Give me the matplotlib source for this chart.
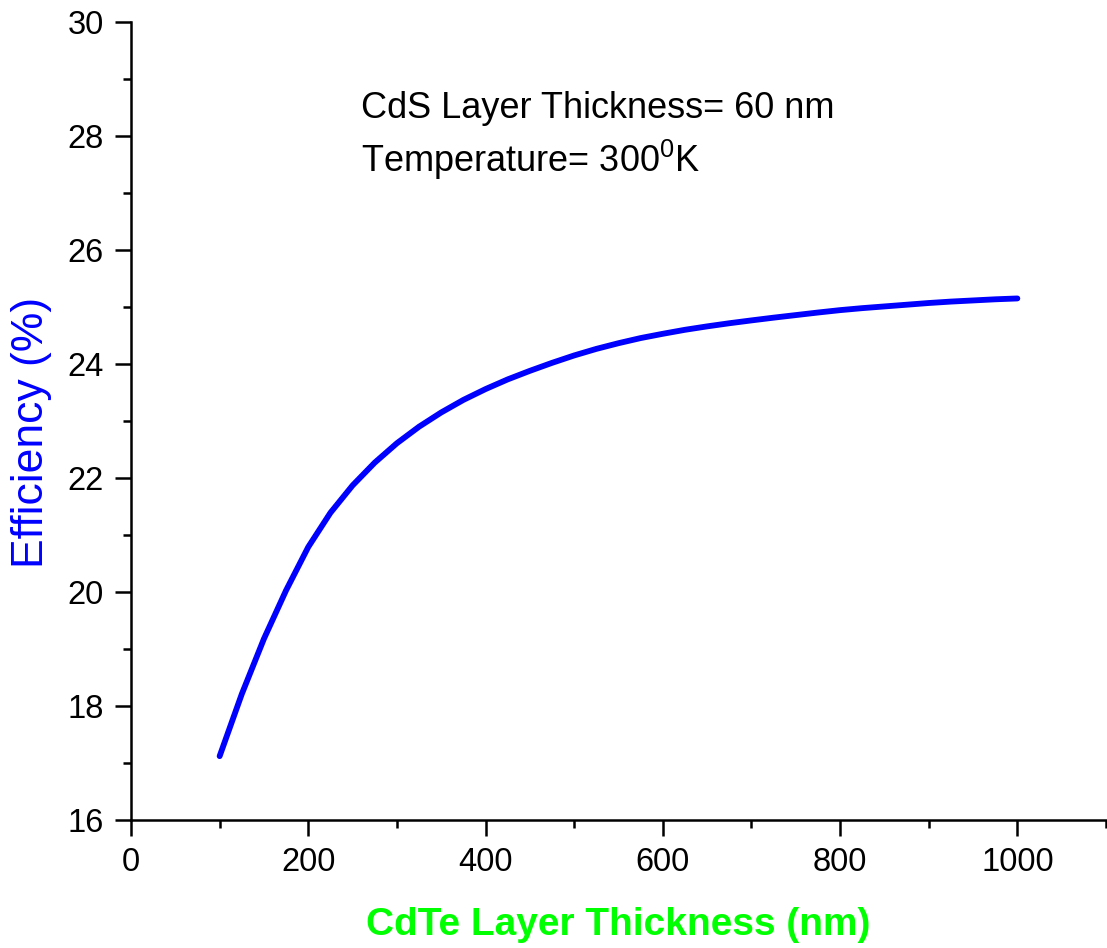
import matplotlib
matplotlib.use("Agg")
import matplotlib.pyplot as plt
from matplotlib.ticker import MultipleLocator

plt.rcParams['font.family'] = ['Liberation Sans', 'DejaVu Sans']
plt.rcParams['mathtext.fontset'] = 'custom'
plt.rcParams['mathtext.rm'] = 'Liberation Sans'

cdte_thickness = [100, 125, 150, 175, 200, 225, 250, 275, 300, 325, 350, 375, 400,
                  425, 450, 475, 500, 525, 550, 575, 600, 625, 650, 675, 700, 725,
                  750, 775, 800, 825, 850, 875, 900, 925, 950, 975, 1000]
efficiency = [17.12, 18.21, 19.18, 20.03, 20.79, 21.39, 21.87, 22.27, 22.61, 22.90,
              23.15, 23.37, 23.56, 23.73, 23.88, 24.02, 24.15, 24.265, 24.365, 24.455,
              24.53, 24.60, 24.66, 24.715, 24.765, 24.813, 24.858, 24.903, 24.945,
              24.98, 25.01, 25.04, 25.07, 25.095, 25.115, 25.135, 25.15]

fig = plt.figure(figsize=(11.07, 9.48), dpi=100)
ax = fig.add_axes([131/1107, 1-820/948, (1106-131)/1107, (820-22)/948])

ax.plot(cdte_thickness, efficiency, color='#0000FF', lw=4.2,
        solid_capstyle='round', solid_joinstyle='round')

ax.set_xlim(0, 1100)
ax.set_ylim(16, 30)
ax.xaxis.set_major_locator(MultipleLocator(200))
ax.xaxis.set_minor_locator(MultipleLocator(100))
ax.yaxis.set_major_locator(MultipleLocator(2))
ax.yaxis.set_minor_locator(MultipleLocator(1))

for s in ['top', 'right']:
    ax.spines[s].set_visible(False)
for s in ['left', 'bottom']:
    ax.spines[s].set_linewidth(1.8)

ax.tick_params(which='major', direction='out', length=11.5, width=1.8, labelsize=23.5, pad=8)
ax.tick_params(which='minor', direction='out', length=6, width=1.8)

ax.set_xlabel('CdTe Layer Thickness (nm)', color='#00FF00', fontsize=28,
              fontweight='bold', labelpad=21)
ax.set_ylabel('Efficiency (%)', color='#0000FF', fontsize=32)
ax.yaxis.set_label_coords((52 - 131) / 975, 0.486)

ax.text(260, 28.32, 'CdS Layer Thickness= 60 nm', fontsize=26, ha='left', va='baseline')
ax.text(260, 27.37, r'Temperature= 300$^\mathregular{0}$K', fontsize=26, ha='left', va='baseline')

fig.savefig('out.png', dpi=100)
